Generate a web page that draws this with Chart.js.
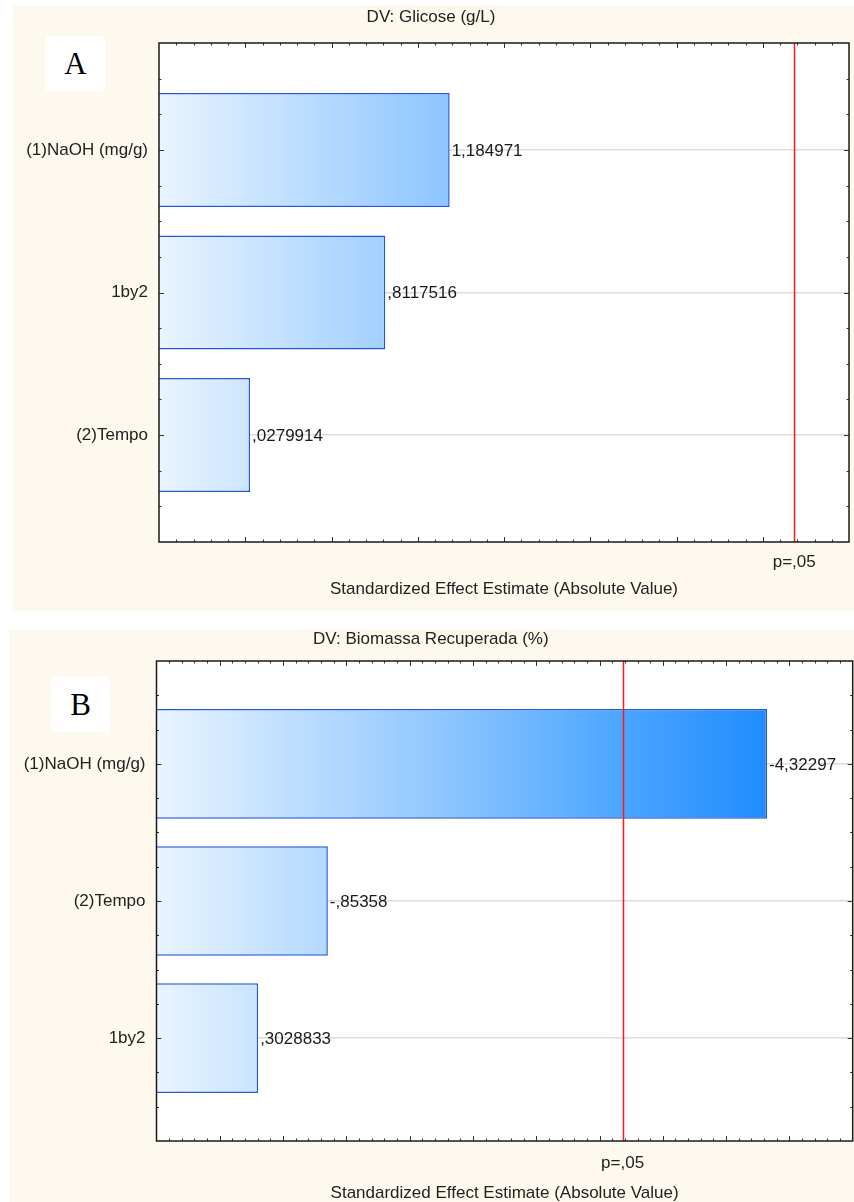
<!DOCTYPE html>
<html>
<head>
<meta charset="utf-8">
<script src="https://cdn.jsdelivr.net/npm/chart.js@4.4.1/dist/chart.umd.min.js"></script>
<style>
  body { margin: 0; background: #fff; width: 854px; height: 1202px; overflow: hidden; position: relative; }
  .panel { position: absolute; background: #fdf9ef; }
  .panel canvas { display: block; }
  .tag { position: absolute; background: #fff; color: #000; text-align: center;
         font-family: "Liberation Serif", "Times New Roman", serif; font-size: 31px; }
</style>
</head>
<body>
<div class="panel" style="left:13px;top:5px;width:841px;height:606px"><canvas id="chartA" width="841" height="606"></canvas></div>
<div class="panel" style="left:9px;top:629px;width:845px;height:580px"><canvas id="chartB" width="845" height="580"></canvas></div>
<div class="tag" style="left:46px;top:36px;width:59px;height:55px;line-height:55px">A</div>
<div class="tag" style="left:51px;top:677px;width:59px;height:55px;line-height:55px">B</div>

<script>
// A - DV: Glicose (g/L)
const factorsA = ['(1)NaOH (mg/g)', '1by2', '(2)Tempo'];
const effectsA = [1.184971, 0.8117516, 0.0279914];
const labelsA = ['1,184971', ',8117516', ',0279914'];

// B - DV: Biomassa Recuperada (%)
const factorsB = ['(1)NaOH (mg/g)', '(2)Tempo', '1by2'];
const effectsB = [4.32297, 0.85358, 0.3028833];
const labelsB = ['-4,32297', '-,85358', ',3028833'];

const tCrit = 3.182446;   // p=,05 line
const critLabel = 'p=,05';
const xRangeA = [-0.5, 3.5];
const xRangeB = [-0.5, 5.0];

Chart.defaults.font.family = '"Liberation Sans", Arial, sans-serif';
Chart.defaults.font.size = 17;
Chart.defaults.color = '#222';

// ticks pointing inside, red p line, frame and value labels
const paretoExtras = {
  id: 'paretoExtras',
  afterDatasetsDraw(chart, args, opts) {
    const ctx = chart.ctx;
    const a = chart.chartArea;
    const x = chart.scales.x, y = chart.scales.y;
    ctx.save();
    ctx.strokeStyle = '#333';
    ctx.lineWidth = 1;
    ctx.beginPath();
    for (let i = Math.round(x.min * 10) + 1; i < Math.round(x.max * 10); i++) {
      const px = Math.round(x.getPixelForValue(i / 10)) + 0.5;
      const len = i % 5 === 0 ? 5 : 2.5;
      ctx.moveTo(px, a.top); ctx.lineTo(px, a.top + len);
      ctx.moveTo(px, a.bottom); ctx.lineTo(px, a.bottom - len);
    }
    for (let j = Math.round(y.min * 4) + 1; j < Math.round(y.max * 4); j++) {
      const py = Math.round(y.getPixelForValue(j / 4)) + 0.5;
      const len = j % 4 === 0 ? 5 : 2.5;
      ctx.moveTo(a.left, py); ctx.lineTo(a.left + len, py);
      ctx.moveTo(a.right, py); ctx.lineTo(a.right - len, py);
    }
    ctx.stroke();

    // p=,05 line
    const cx = Math.round(x.getPixelForValue(opts.crit)) + 0.5;
    ctx.strokeStyle = '#ff1a1a';
    ctx.lineWidth = 1.5;
    ctx.beginPath();
    ctx.moveTo(cx, a.top); ctx.lineTo(cx, a.bottom);
    ctx.stroke();

    ctx.strokeStyle = '#1a1a1a';
    ctx.lineWidth = 1.5;
    ctx.strokeRect(a.left, a.top, a.right - a.left, a.bottom - a.top);

    // effect values next to the bars
    ctx.fillStyle = '#1a1a1a';
    ctx.font = '17px "Liberation Sans", Arial, sans-serif';
    ctx.textAlign = 'left';
    ctx.textBaseline = 'middle';
    chart.getDatasetMeta(0).data.forEach((bar, i) => {
      ctx.fillText(opts.texts[i], bar.x + 2, bar.y + 1);
    });
    ctx.restore();
  }
};

function barFill(c) {
  const area = c.chart.chartArea;
  if (!area) return '#9ccaff';
  const g = c.chart.ctx.createLinearGradient(area.left, 0, area.right, 0);
  g.addColorStop(0, '#e9f4ff');
  g.addColorStop(0.42, '#8dc5ff');
  g.addColorStop(0.67, '#4ba5ff');
  g.addColorStop(0.88, '#1f8bff');
  g.addColorStop(1, '#0f82ff');
  return g;
}

function drawPareto(id, title, factors, effects, texts, xRange, fit) {
  const points = effects.map((v, i) => ({ x: v, y: i + 1 }));
  return new Chart(document.getElementById(id), {
    type: 'bar',
    data: {
      datasets: [{
        data: points,
        base: xRange[0],
        backgroundColor: barFill,
        borderColor: '#2557d6',
        borderWidth: 1.5,
        barPercentage: 0.8,
        categoryPercentage: 1
      }]
    },
    options: {
      indexAxis: 'y',
      responsive: false,
      animation: false,
      layout: { padding: { left: 0, right: fit.right, top: 0, bottom: 0 } },
      plugins: {
        legend: { display: false },
        tooltip: { enabled: false },
        title: {
          display: true, text: title, color: '#222',
          font: { size: 17, weight: 'normal' },
          padding: { top: fit.titleTop, bottom: fit.titleBottom }
        },
        paretoExtras: { texts: texts, crit: tCrit }
      },
      scales: {
        x: {
          type: 'linear', min: xRange[0], max: xRange[1],
          afterBuildTicks: s => { s.ticks = [{ value: tCrit }]; },
          afterFit: s => { s.height = fit.xHeight; },
          ticks: { callback: () => critLabel, padding: fit.tickPad, color: '#222', maxRotation: 0 },
          grid: { display: false },
          border: { display: false },
          title: {
            display: true, text: 'Standardized Effect Estimate (Absolute Value)', color: '#222',
            font: { size: 17 }, padding: { top: 0, bottom: fit.axisTitleBottom }
          }
        },
        y: {
          type: 'linear', reverse: true, min: 0.25, max: 3.75, offset: false,
          afterBuildTicks: s => { s.ticks = factors.map((f, i) => ({ value: i + 1 })); },
          afterFit: s => { s.width = fit.yWidth; },
          ticks: { callback: (v, i) => factors[i], padding: 11, color: '#222' },
          grid: { color: '#dcdcdc', lineWidth: 1.5, drawTicks: false, offset: false },
          border: { display: false }
        }
      }
    },
    plugins: [paretoExtras, {
      id: 'plotBg',
      beforeDraw(chart) {
        const a = chart.chartArea;
        chart.ctx.save();
        chart.ctx.fillStyle = '#fff';
        chart.ctx.fillRect(a.left, a.top, a.right - a.left, a.bottom - a.top);
        chart.ctx.restore();
      }
    }]
  });
}

drawPareto('chartA', 'DV: Glicose (g/L)', factorsA, effectsA, labelsA, xRangeA,
  { yWidth: 146, xHeight: 69, right: 5, titleTop: 2, titleBottom: 15.6, tickPad: 2, axisTitleBottom: 11.8 });
drawPareto('chartB', 'DV: Biomassa Recuperada (%)', factorsB, effectsB, labelsB, xRangeB,
  { yWidth: 147.5, xHeight: 68, right: 1.3, titleTop: 0, titleBottom: 11.6, tickPad: 4, axisTitleBottom: 5.8 });
</script>
</body>
</html>
